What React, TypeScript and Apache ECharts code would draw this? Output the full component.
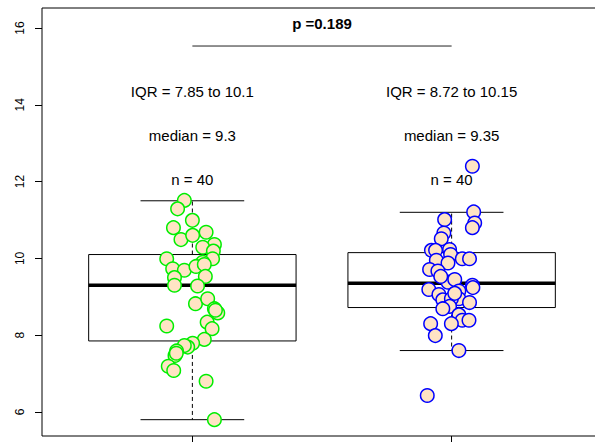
import React, { useEffect, useRef } from "react";
import * as echarts from "echarts";

const groupPositions = [1, 2];
const groupColors = ["#00ee00", "#0000ff"];

// box statistics (lower whisker, Q1, median, Q3, upper whisker)
const whiskerLow = [5.8, 7.6];
const quart1 = [7.85, 8.72];
const medians = [9.3, 9.35];
const quart3 = [10.1, 10.15];
const whiskerHigh = [11.5, 11.2];

const iqrLabels = ["IQR = 7.85 to 10.1", "IQR = 8.72 to 10.15"];
const medianLabels = ["median = 9.3", "median = 9.35"];
const nLabels = ["n = 40", "n = 40"];
const pLabel = "p =0.189";

const yTicks = [6, 8, 10, 12, 14, 16];

const group1Values = [
  11.51, 11.29, 10.99, 10.8, 10.68, 10.49, 10.6, 10.36, 10.29, 10.19,
  9.99, 9.99, 9.9, 9.73, 9.69, 9.79, 9.84, 9.5, 9.53, 9.3,
  9.28, 8.82, 8.95, 8.69, 8.58, 8.65, 8.24, 8.34, 8.17, 7.89,
  7.79, 7.69, 7.73, 7.59, 7.47, 7.53, 7.19, 7.08, 6.8, 5.8,
];
const group1Jitter = [
  -0.031, -0.057, 0.0, -0.073, 0.053, -0.044, 0.001, 0.085, 0.04, 0.081,
  0.078, -0.099, 0.04, -0.076, -0.031, 0.014, 0.046, -0.069, 0.05, -0.069,
  0.02, 0.012, 0.059, 0.085, 0.098, 0.089, -0.099, 0.057, 0.076, 0.046,
  0.001, -0.018, -0.031, -0.061, -0.067, -0.062, -0.093, -0.072, 0.053, 0.085,
];
const group2Values = [
  12.4, 11.21, 10.92, 10.8, 11.01, 10.66, 10.51, 10.21, 10.21, 10.23,
  10.1, 9.99, 9.99, 9.95, 9.88, 9.71, 9.67, 9.38, 9.45, 9.3,
  9.19, 9.15, 9.06, 8.92, 8.95, 8.95, 8.85, 8.75, 8.69, 8.53,
  8.39, 8.39, 8.3, 8.3, 7.99, 7.6, 6.43, 9.24, 9.53, 9.09,
];
const group2Jitter = [
  0.08, 0.085, 0.089, 0.08, -0.027, -0.03, -0.04, -0.078, -0.062, -0.008,
  -0.004, 0.041, 0.069, -0.059, -0.014, -0.085, -0.053, -0.014, 0.012, 0.08,
  -0.088, 0.028, -0.049, -0.034, 0.028, -0.001, 0.069, -0.008, -0.034, 0.028,
  0.041, 0.067, -0.081, -0.001, -0.063, 0.028, -0.094, 0.082, -0.042, 0.012,
];

const FONT = '"Liberation Sans", Arial, Helvetica, sans-serif';

export default function App() {
  const ref = useRef<HTMLDivElement>(null);

  useEffect(() => {
    if (!ref.current) return;
    const chart = echarts.init(ref.current, null, { renderer: "svg" });

    const boxData = groupPositions.map((x, i) => [
      x,
      whiskerLow[i],
      quart1[i],
      medians[i],
      quart3[i],
      whiskerHigh[i],
    ]);

    const pointsSeries = [
      { vals: group1Values, jit: group1Jitter },
      { vals: group2Values, jit: group2Jitter },
    ].map((g, gi) => ({
      type: "scatter",
      symbol: "circle",
      symbolSize: 13.5,
      z: 5,
      itemStyle: {
        color: "#ffe4c4",
        borderColor: groupColors[gi],
        borderWidth: 1.5,
        opacity: 1,
      },
      emphasis: { disabled: true },
      data: g.vals.map((v, k) => [groupPositions[gi] + g.jit[k], v]),
    }));

    const annData: any[] = [];
    groupPositions.forEach((x, i) => {
      annData.push([x, 14.35, iqrLabels[i], 0]);
      annData.push([x, 13.2, medianLabels[i], 0]);
      annData.push([x, 12.06, nLabels[i], 0]);
    });
    annData.push([(groupPositions[0] + groupPositions[1]) / 2, 16.12, pLabel, 1]);

    const option: any = {
      animation: false,
      backgroundColor: "#ffffff",
      grid: {
        left: 42,
        top: 8,
        width: 560,
        height: 428,
        show: true,
        borderColor: "#000",
        borderWidth: 1,
        backgroundColor: "transparent",
      },
      xAxis: {
        type: "value",
        min: 0.42,
        max: 2.58,
        splitLine: { show: false },
        axisLine: { show: false },
        axisTick: {
          show: true,
          length: 7,
          customValues: groupPositions,
          lineStyle: { color: "#000", width: 1 },
        },
        axisLabel: { show: false },
      },
      yAxis: {
        type: "value",
        min: 5.375,
        max: 16.52,
        splitLine: { show: false },
        axisLine: { show: false },
        axisTick: {
          show: true,
          length: 7,
          customValues: yTicks,
          lineStyle: { color: "#000", width: 1 },
        },
        axisLabel: {
          show: true,
          customValues: yTicks,
          rotate: 90,
          margin: 16,
          color: "#000",
          fontSize: 12,
          fontFamily: FONT,
        },
      },
      series: [
        {
          type: "custom",
          z: 2,
          data: boxData,
          renderItem: (params: any, api: any) => {
            const x = api.value(0);
            const lo = api.value(1);
            const q1 = api.value(2);
            const md = api.value(3);
            const q3 = api.value(4);
            const hi = api.value(5);
            const pL = api.coord([x - 0.4, q3]);
            const pR = api.coord([x + 0.4, q1]);
            const cx = api.coord([x, md])[0];
            const capL = api.coord([x - 0.2, lo])[0];
            const capR = api.coord([x + 0.2, lo])[0];
            const yLo = api.coord([x, lo])[1];
            const yHi = api.coord([x, hi])[1];
            const yQ1 = pR[1];
            const yQ3 = pL[1];
            const yMd = api.coord([x, md])[1];
            const lineStyle = { stroke: "#000", lineWidth: 1 };
            return {
              type: "group",
              children: [
                {
                  type: "line",
                  shape: { x1: cx, y1: yQ3, x2: cx, y2: yHi },
                  style: { stroke: "#000", lineWidth: 1, lineDash: [4, 3] },
                },
                {
                  type: "line",
                  shape: { x1: cx, y1: yQ1, x2: cx, y2: yLo },
                  style: { stroke: "#000", lineWidth: 1, lineDash: [4, 3] },
                },
                {
                  type: "line",
                  shape: { x1: capL, y1: yHi, x2: capR, y2: yHi },
                  style: lineStyle,
                },
                {
                  type: "line",
                  shape: { x1: capL, y1: yLo, x2: capR, y2: yLo },
                  style: lineStyle,
                },
                {
                  type: "rect",
                  shape: { x: pL[0], y: yQ3, width: pR[0] - pL[0], height: yQ1 - yQ3 },
                  style: { fill: "none", stroke: "#000", lineWidth: 1 },
                },
                {
                  type: "line",
                  shape: { x1: pL[0], y1: yMd, x2: pR[0], y2: yMd },
                  style: { stroke: "#000", lineWidth: 3.5 },
                },
              ],
            };
          },
        },
        ...pointsSeries,
        {
          type: "custom",
          z: 6,
          data: [[groupPositions[0], groupPositions[1], 15.53]],
          renderItem: (params: any, api: any) => {
            const a = api.coord([api.value(0), api.value(2)]);
            const b = api.coord([api.value(1), api.value(2)]);
            return {
              type: "line",
              shape: { x1: a[0], y1: a[1], x2: b[0], y2: b[1] },
              style: { stroke: "#222", lineWidth: 1 },
            };
          },
        },
        {
          type: "custom",
          z: 7,
          data: annData,
          renderItem: (params: any, api: any) => {
            const d = annData[params.dataIndex];
            const p = api.coord([d[0], d[1]]);
            return {
              type: "text",
              x: p[0],
              y: p[1],
              style: {
                text: d[2],
                fill: "#000",
                font: `${d[3] ? "bold " : ""}15px ${FONT}`,
                align: "center",
                verticalAlign: "middle",
              },
            };
          },
        },
      ],
    };

    chart.setOption(option);
    return () => chart.dispose();
  }, []);

  return (
    <div
      style={{
        position: "absolute",
        left: 0,
        top: 0,
        width: 595,
        height: 442,
        overflow: "hidden",
        background: "#fff",
      }}
    >
      <div ref={ref} style={{ width: 620, height: 442 }} />
    </div>
  );
}
